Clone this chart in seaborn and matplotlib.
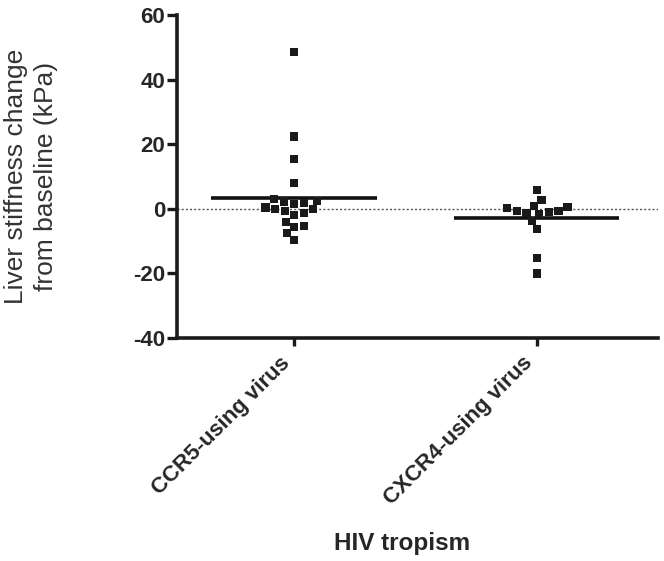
import pandas as pd
import matplotlib
matplotlib.use("Agg")
import matplotlib.pyplot as plt
import seaborn as sns

# values (kPa change from baseline)
groups = ["CCR5-using virus", "CXCR4-using virus"]
ccr5_values = [48.7, 22.4, 15.4, 8.0, 2.5, 1.9, 1.6, 2.3, 3.0, -0.1,
               -0.6, -0.1, 0.4, -1.9, -1.3, -4.0, -5.3, -5.6, -7.6, -9.7]
cxcr4_values = [5.9, 2.8, 0.9, 0.2, -0.6, -1.3, -1.6, -3.7, -0.9, -0.6,
                0.7, -6.3, -15.1, -20.0]
y_ticks = [-40, -20, 0, 20, 40, 60]

df = pd.DataFrame({
    "group": [groups[0]] * len(ccr5_values) + [groups[1]] * len(cxcr4_values),
    "change": ccr5_values + cxcr4_values,
})

sns.set_style("ticks")
plt.rcParams["font.family"] = ["Liberation Sans", "DejaVu Sans"]

fig = plt.figure(figsize=(6.64, 5.61), dpi=100)
ax = fig.add_axes([0.2666, 0.3975, 0.7244, 0.5755])

ax.axhline(0, ls=(0, (1.5, 1.5)), color="#555555", lw=1.0, zorder=1)

# invisible edge keeps a small gap between neighbouring squares in the swarm
sns.swarmplot(data=df, x="group", y="change", order=groups, marker="s",
              size=5.9, color="#1a1a1a", edgecolor="none", linewidth=0.9,
              ax=ax, zorder=3)

means = df.groupby("group")["change"].mean()
for i, g in enumerate(groups):
    ax.hlines(means[g], i - 0.34, i + 0.34, color="#111111", lw=2.6, zorder=2)

ax.set_xlim(-0.482, 1.5)
ax.set_ylim(-40, 60)
ax.set_yticks(y_ticks)
ax.set_yticklabels([str(t) for t in y_ticks], fontsize=16, fontweight="bold")
ax.set_xticks(range(len(groups)))
ax.set_xticklabels(groups, fontsize=16, fontweight="bold", rotation=45,
                   ha="right", va="bottom", rotation_mode="anchor")

for side in ["top", "right"]:
    ax.spines[side].set_visible(False)
for side in ["left", "bottom"]:
    ax.spines[side].set_linewidth(2.6)
    ax.spines[side].set_color("#1a1a1a")
ax.tick_params(axis="y", width=2.4, length=7, color="#1a1a1a", pad=1.5)
ax.tick_params(axis="x", width=2.4, length=6, color="#1a1a1a", pad=15)

ax.set_ylabel("Liver stiffness change\nfrom baseline (kPa)", fontsize=19,
              color="#333333", va="center", linespacing=1.3)
ax.yaxis.set_label_coords(-0.303, 0.5)
ax.set_xlabel("HIV tropism", fontsize=17.5, fontweight="bold", va="center")
ax.xaxis.set_label_coords(0.468, -0.635)

plt.savefig("out.png", dpi=100)
